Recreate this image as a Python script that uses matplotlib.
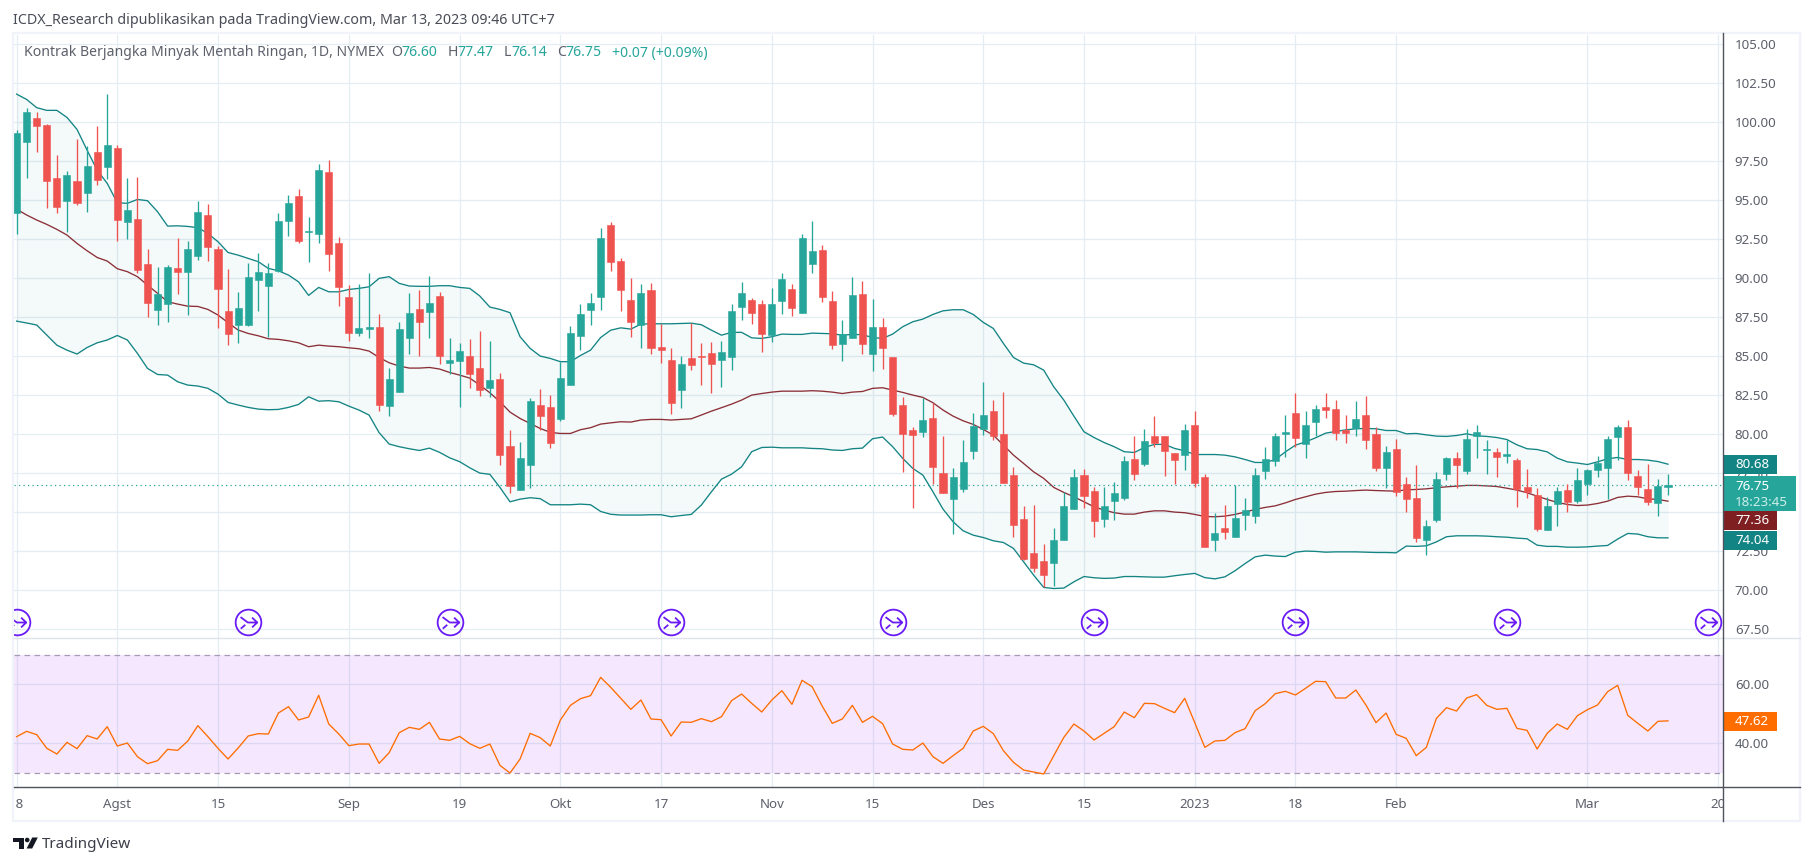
import matplotlib
matplotlib.use('Agg')
import matplotlib.pyplot as plt
from matplotlib.patches import Polygon, Circle, Rectangle
from matplotlib.path import Path
from matplotlib.transforms import Bbox

opens = [94.21, 98.76, 100.28, 99.83, 96.43, 94.96, 96.24, 95.47, 98.10, 97.16,
         98.35, 93.61, 93.80, 90.92, 87.97, 88.35, 90.66, 90.40, 91.43, 94.06,
         91.88, 87.90, 87.01, 87.01, 89.89, 89.51, 90.47, 93.67, 95.28, 92.99,
         92.84, 96.81, 92.26, 88.80, 86.49, 86.75, 86.88, 81.81, 82.71, 86.17,
         88.03, 87.84, 88.87, 84.57, 84.70, 85.02, 84.25, 82.97, 83.55, 79.25,
         76.43, 78.03, 81.88, 81.75, 80.98, 83.16, 86.30, 87.97, 88.80, 93.42,
         91.11, 88.61, 87.01, 89.25, 85.59, 84.76, 82.84, 84.89, 85.02, 85.21,
         84.76, 84.95, 88.16, 88.61, 88.35, 86.36, 88.54, 89.31, 87.77, 90.92,
         91.81, 88.54, 85.79, 86.17, 88.99, 85.15, 86.88, 84.95, 81.88, 80.27,
         80.15, 81.04, 77.52, 75.85, 76.49, 78.93, 80.34, 81.49, 80.02, 77.39,
         74.57, 72.39, 71.88, 71.75, 73.22, 75.21, 77.39, 76.36, 74.57, 75.72,
         75.92, 78.42, 78.09, 79.89, 79.89, 78.80, 78.67, 80.59, 77.26, 73.22,
         73.99, 73.41, 74.82, 74.76, 77.64, 78.29, 80.04, 81.36, 79.38, 80.79,
         81.75, 81.62, 80.27, 80.40, 81.23, 80.02, 77.84, 79.05, 76.81, 75.91,
         73.22, 74.50, 77.45, 78.48, 77.64, 79.89, 78.99, 78.86, 78.61, 78.35,
         76.62, 76.11, 73.86, 75.53, 76.43, 75.72, 76.81, 77.71, 77.84, 79.82,
         80.47, 77.32, 76.49, 75.59, 76.60]
closes = [99.34, 100.66, 99.78, 96.24, 94.59, 96.62, 94.83, 97.20, 96.30, 98.55,
          93.74, 94.38, 90.53, 88.42, 88.99, 90.72, 90.40, 91.88, 94.25, 92.01,
          89.31, 86.43, 88.10, 90.08, 90.40, 90.34, 93.67, 94.83, 92.39, 93.03,
          96.94, 91.56, 89.44, 86.49, 86.81, 86.88, 81.88, 83.55, 86.75, 87.78,
          87.20, 88.42, 85.02, 84.76, 85.34, 83.87, 82.84, 83.48, 78.67, 76.69,
          78.48, 82.11, 81.17, 79.44, 83.61, 86.49, 87.71, 88.42, 92.58, 91.04,
          89.25, 87.20, 89.06, 85.53, 85.40, 82.00, 84.50, 84.44, 84.95, 84.50,
          85.27, 87.90, 89.06, 87.77, 86.43, 88.35, 89.95, 88.09, 92.58, 91.75,
          88.80, 85.72, 86.43, 88.93, 85.79, 86.88, 85.53, 81.30, 80.02, 79.95,
          80.92, 77.90, 76.24, 77.26, 78.22, 80.53, 81.24, 79.89, 76.88, 74.18,
          72.00, 71.43, 70.98, 73.22, 75.40, 77.26, 76.04, 74.44, 75.40, 76.24,
          78.29, 77.45, 79.57, 79.44, 78.93, 78.35, 80.27, 76.88, 72.77, 73.67,
          73.73, 74.63, 75.14, 77.39, 78.41, 79.89, 80.14, 79.76, 80.59, 81.62,
          81.55, 80.08, 80.08, 80.98, 79.63, 77.84, 78.86, 76.30, 75.85, 73.35,
          74.12, 77.13, 78.48, 78.03, 79.70, 80.14, 79.05, 78.54, 78.73, 76.49,
          76.30, 73.93, 75.40, 76.36, 75.66, 77.07, 77.71, 78.16, 79.70, 80.47,
          77.52, 76.62, 75.66, 76.68, 76.75]
highs = [99.51, 100.90, 100.66, 99.89, 97.90, 96.86, 98.91, 98.48, 99.76, 101.81,
         98.52, 96.43, 96.49, 91.88, 90.72, 90.83, 92.58, 92.39, 94.96, 94.76,
         92.07, 90.60, 89.12, 90.98, 91.62, 90.98, 94.19, 95.34, 95.72, 93.93,
         97.33, 97.58, 92.65, 89.57, 89.64, 90.34, 87.71, 84.25, 87.20, 89.06,
         89.25, 90.15, 89.12, 86.17, 85.85, 86.11, 86.62, 85.98, 83.93, 80.28,
         79.51, 82.33, 82.90, 82.52, 84.63, 86.94, 88.35, 89.06, 93.22, 93.61,
         91.30, 90.02, 89.63, 89.70, 87.09, 85.53, 85.02, 87.11, 85.85, 85.92,
         85.98, 88.35, 89.76, 88.74, 88.61, 89.38, 90.34, 89.63, 92.84, 93.67,
         92.13, 89.18, 87.33, 90.08, 89.83, 88.67, 87.45, 84.95, 82.39, 80.47,
         82.33, 82.00, 79.89, 77.84, 79.63, 81.36, 83.35, 82.20, 82.71, 77.90,
         75.40, 75.47, 72.97, 73.99, 76.30, 77.77, 77.77, 76.62, 76.62, 76.94,
         78.61, 79.89, 80.34, 81.17, 79.89, 78.80, 80.66, 81.49, 77.45, 74.95,
         75.47, 76.75, 75.91, 77.82, 79.18, 80.08, 81.23, 82.64, 81.49, 81.88,
         82.64, 82.20, 81.23, 82.13, 82.45, 80.47, 79.25, 79.70, 77.26, 78.03,
         74.50, 77.58, 78.54, 78.86, 80.34, 80.59, 79.63, 79.12, 79.63, 78.48,
         77.77, 76.55, 75.98, 76.62, 76.81, 77.84, 77.77, 78.61, 79.89, 80.59,
         80.91, 77.71, 78.09, 77.13, 77.47]
lows = [92.84, 96.45, 98.10, 94.53, 94.21, 93.00, 94.72, 94.27, 95.98, 96.37,
        92.41, 92.52, 90.34, 87.52, 87.01, 87.20, 88.99, 87.65, 91.17, 91.11,
        86.81, 85.72, 85.85, 86.94, 87.90, 86.24, 90.40, 92.71, 92.26, 91.04,
        92.26, 90.47, 88.22, 85.98, 86.30, 86.17, 81.49, 81.17, 82.71, 85.15,
        85.02, 86.17, 84.51, 83.87, 81.75, 82.97, 82.46, 82.39, 78.03, 76.26,
        76.43, 76.56, 80.28, 79.12, 80.85, 83.16, 85.40, 87.01, 87.97, 90.47,
        87.90, 86.24, 85.53, 85.15, 84.57, 81.30, 81.68, 84.12, 83.16, 82.65,
        83.03, 84.12, 87.33, 87.07, 85.27, 85.92, 87.71, 87.58, 87.77, 90.34,
        88.48, 85.47, 84.70, 86.17, 85.15, 84.06, 84.18, 81.17, 77.58, 75.27,
        79.83, 76.81, 76.24, 73.61, 76.30, 78.42, 79.95, 79.63, 76.88, 73.42,
        71.94, 71.17, 70.21, 70.27, 73.22, 75.21, 75.27, 73.42, 74.06, 74.50,
        75.79, 77.07, 77.97, 79.18, 77.33, 76.81, 77.71, 76.62, 72.77, 72.52,
        73.29, 73.41, 73.86, 74.31, 77.13, 77.97, 78.54, 79.18, 78.48, 79.89,
        81.04, 79.63, 79.44, 79.89, 79.05, 77.64, 76.55, 76.04, 75.02, 73.09,
        72.26, 74.38, 77.07, 76.55, 77.45, 78.48, 77.45, 77.26, 78.16, 75.34,
        75.91, 73.80, 73.86, 74.12, 75.02, 75.59, 76.11, 77.26, 75.85, 78.35,
        77.07, 76.11, 75.47, 74.76, 76.14]

bb_upper = [101.81, 101.47, 100.94, 100.77, 100.77, 100.32, 99.55, 98.22, 96.94, 96.09,
            94.85, 94.81, 95.06, 94.98, 94.27, 93.35, 93.37, 93.33, 93.25, 92.88,
            92.35, 91.66, 91.49, 91.28, 91.07, 90.64, 90.49, 90.21, 89.78, 88.91,
            89.42, 89.14, 89.14, 89.29, 89.36, 89.46, 90.00, 90.11, 89.68, 89.51,
            89.49, 89.49, 89.53, 89.53, 89.42, 89.36, 88.87, 88.16, 88.01, 87.80,
            86.26, 85.51, 85.02, 84.87, 84.66, 84.66, 85.06, 85.40, 86.21, 86.68,
            86.83, 86.75, 87.07, 87.09, 87.09, 87.09, 87.11, 87.13, 87.03, 86.68,
            86.36, 86.54, 86.54, 86.19, 86.15, 86.26, 86.43, 86.41, 86.41, 86.49,
            86.47, 86.45, 86.36, 86.41, 86.39, 86.21, 86.15, 86.43, 86.90, 87.22,
            87.39, 87.69, 87.92, 87.99, 87.99, 87.69, 87.18, 86.79, 85.83, 84.93,
            84.57, 84.46, 84.12, 83.05, 82.20, 81.17, 80.17, 79.80, 79.48, 79.21,
            78.89, 78.84, 79.16, 79.36, 79.36, 79.10, 78.95, 78.71, 78.71, 78.71,
            78.67, 78.56, 78.39, 78.20, 78.20, 78.39, 78.88, 79.31, 79.52, 79.78,
            80.08, 80.19, 80.29, 80.36, 80.38, 80.36, 80.25, 80.25, 80.04, 80.06,
            79.97, 79.89, 79.87, 79.93, 80.04, 79.91, 79.87, 79.80, 79.67, 79.33,
            79.08, 79.03, 78.88, 78.48, 78.24, 78.16, 78.07, 78.24, 78.44, 78.52,
            78.39, 78.39, 78.35, 78.26, 78.09]
bb_basis = [94.44, 94.06, 93.74, 93.46, 93.14, 92.78, 92.24, 91.77, 91.34, 91.11,
            90.62, 90.43, 90.11, 89.57, 89.04, 88.50, 88.35, 88.22, 88.20, 88.01,
            87.65, 87.16, 86.69, 86.47, 86.32, 86.13, 86.09, 86.00, 85.87, 85.62,
            85.72, 85.66, 85.62, 85.55, 85.49, 85.34, 84.93, 84.59, 84.38, 84.25,
            84.25, 84.29, 84.19, 83.97, 83.80, 83.61, 83.16, 82.67, 82.09, 81.43,
            81.02, 80.70, 80.38, 80.13, 80.06, 80.06, 80.30, 80.43, 80.66, 80.74,
            80.81, 80.79, 80.92, 80.96, 80.96, 80.92, 80.96, 81.00, 81.24, 81.49,
            81.71, 81.94, 82.20, 82.52, 82.62, 82.71, 82.77, 82.77, 82.77, 82.80,
            82.77, 82.71, 82.62, 82.71, 82.75, 82.95, 82.99, 82.84, 82.69, 82.52,
            82.37, 82.03, 81.56, 81.17, 80.87, 80.64, 80.32, 79.95, 79.31, 78.67,
            78.14, 77.60, 77.18, 76.60, 76.28, 76.00, 75.68, 75.36, 75.15, 74.98,
            74.89, 74.89, 75.02, 75.10, 75.10, 75.02, 74.98, 74.87, 74.74, 74.72,
            74.76, 74.87, 75.02, 75.19, 75.32, 75.42, 75.61, 75.83, 76.00, 76.17,
            76.28, 76.34, 76.36, 76.40, 76.43, 76.40, 76.38, 76.36, 76.45, 76.47,
            76.51, 76.58, 76.64, 76.68, 76.73, 76.73, 76.70, 76.66, 76.55, 76.43,
            76.26, 76.04, 75.83, 75.64, 75.51, 75.44, 75.47, 75.57, 75.72, 75.96,
            76.04, 76.00, 75.87, 75.83, 75.72]
bb_lower = [87.26, 87.14, 87.01, 86.37, 85.72, 85.40, 85.15, 85.57, 85.87, 86.05,
            86.34, 86.05, 85.19, 84.23, 83.84, 83.80, 83.37, 83.16, 83.10, 82.95,
            82.58, 82.05, 81.88, 81.73, 81.62, 81.58, 81.60, 81.73, 81.92, 82.41,
            82.13, 82.16, 82.09, 81.81, 81.56, 81.24, 80.11, 79.38, 79.21, 79.08,
            78.97, 79.12, 78.85, 78.50, 78.25, 77.86, 77.52, 77.44, 76.60, 75.68,
            75.85, 75.94, 75.88, 75.49, 75.49, 75.49, 75.53, 75.49, 75.06, 74.88,
            74.83, 74.83, 74.83, 74.85, 74.85, 74.72, 74.80, 74.87, 75.47, 76.32,
            77.13, 77.45, 77.92, 78.89, 79.16, 79.18, 79.14, 79.14, 79.14, 79.10,
            79.08, 79.00, 78.97, 79.08, 79.12, 79.72, 79.83, 79.21, 78.46, 77.82,
            77.39, 76.32, 75.21, 74.40, 73.82, 73.54, 73.39, 73.18, 73.07, 72.69,
            71.83, 70.98, 70.19, 70.12, 70.15, 70.55, 70.89, 70.81, 70.77, 70.79,
            70.89, 70.89, 70.87, 70.85, 70.85, 70.94, 71.02, 71.09, 70.82, 70.74,
            70.87, 71.26, 71.72, 72.15, 72.26, 72.20, 72.17, 72.45, 72.52, 72.50,
            72.45, 72.47, 72.47, 72.47, 72.45, 72.43, 72.43, 72.41, 72.84, 72.82,
            72.86, 73.11, 73.44, 73.50, 73.50, 73.50, 73.48, 73.44, 73.41, 73.35,
            73.31, 72.90, 72.82, 72.82, 72.77, 72.77, 72.79, 72.84, 72.88, 73.29,
            73.65, 73.61, 73.44, 73.37, 73.37]
rsi = [42.26, 44.07, 42.94, 38.31, 36.38, 40.34, 38.19, 42.60, 41.47, 45.65,
       39.10, 40.11, 35.48, 33.11, 34.12, 37.97, 37.63, 40.79, 45.99, 42.26,
       38.31, 34.69, 38.42, 42.49, 43.28, 43.16, 50.28, 52.43, 47.91, 48.93,
       56.27, 46.55, 43.16, 39.21, 39.77, 39.77, 33.22, 36.84, 43.62, 45.42,
       44.75, 47.12, 41.47, 41.02, 42.37, 39.89, 38.31, 39.77, 32.54, 29.94,
       34.69, 43.39, 41.92, 39.10, 47.91, 52.88, 55.14, 56.16, 62.37, 58.98,
       55.25, 51.53, 54.69, 48.25, 48.02, 42.49, 47.23, 47.12, 48.36, 47.34,
       49.04, 54.46, 56.72, 53.56, 50.62, 54.69, 57.85, 53.22, 61.36, 59.21,
       52.66, 46.78, 48.25, 52.88, 47.12, 49.15, 46.67, 39.77, 37.97, 37.74,
       40.11, 35.48, 33.22, 35.82, 38.31, 44.18, 45.76, 43.28, 37.51, 33.56,
       30.96, 30.28, 29.60, 35.82, 42.03, 46.55, 44.18, 41.13, 43.39, 45.65,
       50.62, 48.70, 53.56, 53.45, 51.86, 50.40, 55.25, 47.01, 38.64, 40.79,
       41.02, 43.62, 44.97, 51.07, 53.45, 56.84, 57.63, 56.38, 58.64, 61.02,
       60.90, 55.37, 55.37, 58.08, 52.99, 47.01, 50.28, 43.05, 41.69, 35.82,
       38.64, 48.47, 52.09, 50.96, 55.37, 56.50, 52.88, 51.53, 51.86, 45.08,
       44.41, 38.08, 43.39, 46.55, 44.75, 49.38, 51.41, 52.99, 57.51, 59.66,
       49.49, 46.78, 44.18, 47.46, 47.62]

date_pos = [0, 10, 20, 33, 44, 54, 64, 75, 85, 96, 106, 117, 127, 137, 156, 169]
date_labels = ['18', 'Agst', '15', 'Sep', '19', 'Okt', '17', 'Nov', '15', 'Des', '15',
               '2023', '18', 'Feb', 'Mar', '20']
price_ticks = [67.5, 70, 72.5, 75, 77.5, 80, 82.5, 85, 87.5, 90, 92.5, 95, 97.5, 100, 102.5, 105]
rsi_ticks = [40, 60]
event_pos = [0, 23, 43, 65, 87, 107, 127, 148, 168]

W, H = 1813, 866
GREEN = '#26a69a'
RED = '#ef5350'
TEAL = '#138484'
MAROON = '#801922'
GRID = '#e3edf2'
GREY = '#5d606b'
plt.rcParams['font.family'] = ['Noto Sans', 'DejaVu Sans']


def pane(left, top, right, bottom):
    return fig.add_axes([left / W, 1 - bottom / H, (right - left) / W, (bottom - top) / H])


fig = plt.figure(figsize=(W / 100, H / 100), dpi=100)
ax = pane(14, 35, 1723, 638.3)
ax2 = pane(14, 638.3, 1723, 787.3)

xs = list(range(len(closes)))
colors = [GREEN if c >= o else RED for o, c in zip(opens, closes)]

for a in (ax, ax2):
    a.set_xlim(-0.258, 169.46)
    a.set_xticks(date_pos)
    a.grid(True, color=GRID, lw=0.9)
    a.set_axisbelow(True)
    a.yaxis.tick_right()
    a.tick_params(length=0, labelcolor=GREY, labelsize=9.6, pad=8.5)
    for s in a.spines.values():
        s.set_visible(False)

ax.set_ylim(66.93, 105.6)
ax.set_yticks(price_ticks, ['%.2f' % t for t in price_ticks])
ax.tick_params(axis='x', labelbottom=False)

ax.fill_between(xs, bb_lower, bb_upper, color=TEAL, alpha=0.045, lw=0, zorder=1)
ax.plot(xs, bb_upper, color=TEAL, lw=0.95, zorder=2)
ax.plot(xs, bb_lower, color=TEAL, lw=0.95, zorder=2)
ax.plot(xs, bb_basis, color=MAROON, lw=0.95, alpha=0.9, zorder=2)
ax.axhline(closes[-1], color=GREEN, lw=0.9, ls=(0, (1, 2.6)), zorder=2)

ax.vlines(xs, lows, highs, colors=colors, lw=0.95, zorder=3)
ax.bar(xs, [abs(c - o) for o, c in zip(opens, closes)],
       bottom=[min(o, c) for o, c in zip(opens, closes)],
       width=0.7, color=colors, edgecolor=colors, lw=0.4, zorder=4)

# the round purple event icons under the candles
circle = Path.unit_circle()
arrow = Path([(-0.62, 0.42), (-0.05, 0.0), (0.68, 0.0), (0.28, 0.38), (0.68, 0.0), (0.28, -0.38),
              (-0.6, -0.48), (-0.25, -0.18)],
             [1, 2, 2, 1, 2, 2, 1, 2])
icon = Path.make_compound_path(circle, arrow)
ax.plot(event_pos, [68.0] * len(event_pos), ls='', marker=icon, ms=18.5, mfc='none',
        mec='#6a1bf5', mew=1.3, zorder=5)

ax2.set_ylim(25.1, 75.6)
ax2.set_yticks(rsi_ticks, ['%.2f' % t for t in rsi_ticks])
ax2.set_xticks(date_pos, date_labels)
ax2.tick_params(axis='x', pad=7.5)
ax2.axhspan(30, 70, color='#a62cf5', alpha=0.11, lw=0, zorder=1)
ax2.axhline(70, color='#a89ab4', lw=0.9, ls=(0, (4.5, 3.5)), zorder=2)
ax2.axhline(30, color='#a89ab4', lw=0.9, ls=(0, (4.5, 3.5)), zorder=2)
ax2.plot(xs, rsi, color='#ff6d00', lw=0.95, zorder=3)

clip = Bbox([[13.5, 0], [1723, H]])
for lab, name in zip(ax2.get_xticklabels(), date_labels):
    lab.set_clip_on(True)
    lab.set_clip_box(clip)
    if name == '2023':
        lab.set_fontweight('bold')

# frame, price tags and header are drawn in pixel coordinates on a top layer
top = fig.add_axes([0, 0, 1, 1], zorder=10)
top.set_xlim(0, W)
top.set_ylim(H, 0)
top.axis('off')
top.patch.set_visible(False)

top.add_patch(Rectangle((13, 33), 1787, 788, fill=False, ec='#f0f3fa', lw=1.6))
top.plot([14, 1800], [638.3, 638.3], color='#e0e3eb', lw=1)
top.plot([14, 1800], [787.3, 787.3], color='#50535e', lw=1)
top.plot([1723, 1723], [33, 821], color='#50535e', lw=1)


def tag(y0, y1, x1, color, text):
    top.add_patch(Rectangle((1723.5, y0), x1 - 1723.5, y1 - y0, color=color, lw=0))
    top.text(1735, (y0 + y1) / 2, text, color='white', fontsize=9.6, va='center', ha='left')


tag(455, 473.5, 1777, TEAL, '80.68')
top.add_patch(Rectangle((1723.5, 476), 72.5, 35, color=GREEN, lw=0))
top.text(1735, 486, '76.75', color='white', fontsize=9.6, va='center')
top.text(1735, 502, '18:23:45', color='#cdeeea', fontsize=9.6, va='center')
tag(511, 530, 1777, '#7f1f22', '77.36')
tag(531, 550, 1777, TEAL, '74.04')
tag(712, 731, 1777, '#ff6d00', '47.62')

top.text(13, 20, 'ICDX_Research dipublikasikan pada TradingView.com, Mar 13, 2023 09:46 UTC+7',
         color='#4a4d57', fontsize=10.25, va='center')
top.text(23.5, 53, 'Kontrak Berjangka Minyak Mentah Ringan, 1D, NYMEX', color=GREY, fontsize=10.1, va='center')
for x, s, col in [(391, 'O', GREY), (401, '76.60', GREEN), (447.5, 'H', GREY), (457, '77.47', GREEN),
                  (504, 'L', GREY), (511, '76.14', GREEN), (557, 'C', GREY), (565, '76.75', GREEN),
                  (612, '+0.07 (+0.09%)', GREEN)]:
    top.text(x, 53, s, color=col, fontsize=10.1, va='center')

# TradingView mark
logo = '#131722'
top.add_patch(Polygon([(13.3, 837.5), (24, 837.5), (24, 848.5), (18.7, 848.5), (18.7, 842), (13.3, 842)],
                      color=logo, lw=0))
top.add_patch(Circle((27.2, 840), 2.3, color=logo, lw=0))
top.add_patch(Polygon([(32.2, 837.5), (37.8, 837.5), (32.2, 848.5), (26.6, 848.5)], color=logo, lw=0))
top.text(42, 844.5, 'TradingView', color='#3c3f4a', fontsize=11.0, va='center')

fig.savefig('out.png', dpi=100)
